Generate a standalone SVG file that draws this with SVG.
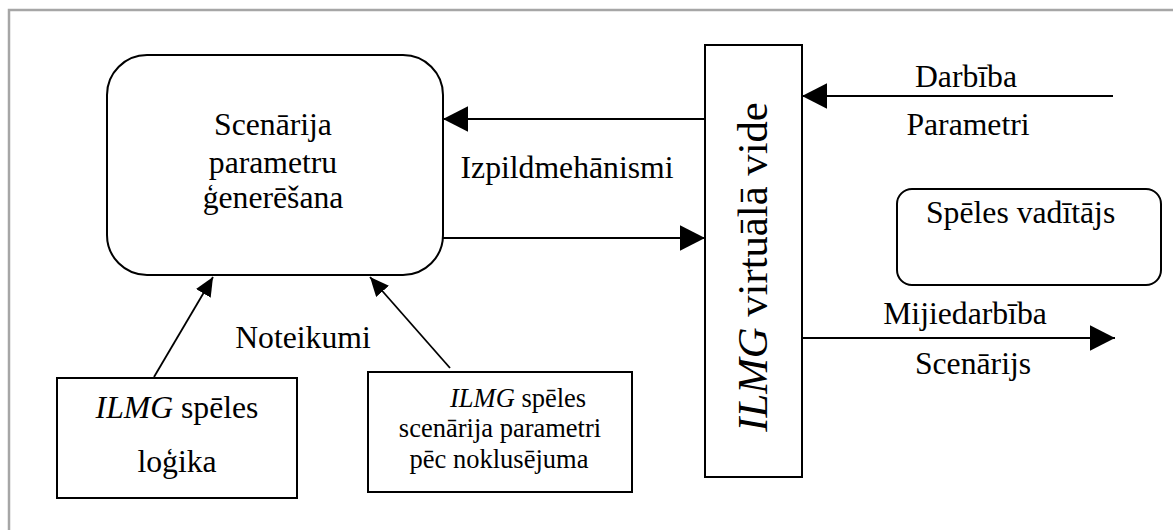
<svg xmlns="http://www.w3.org/2000/svg" width="1173" height="530" viewBox="0 0 1173 530">
  <style>
    .box { fill: #ffffff; stroke: #000000; stroke-width: 2; }
    .frame { fill: none; stroke: #a6a6a6; stroke-width: 2.5; }
    .conn { fill: none; stroke: #000000; stroke-width: 1.8; }
    .t { font-family: "Liberation Serif", "Times New Roman", serif; font-size: 31.7px; fill: #000000; }
    .ts { font-family: "Liberation Serif", "Times New Roman", serif; font-size: 26.5px; fill: #000000; }
    .tv { font-family: "Liberation Serif", "Times New Roman", serif; font-size: 42.7px; fill: #000000; }
    .c { text-anchor: middle; }
  </style>
  <defs>
    <marker id="head" markerUnits="userSpaceOnUse" markerWidth="26" markerHeight="26" refX="25" refY="12.75" orient="auto">
      <path d="M0,0 L25,12.75 L0,25.5 Z" fill="#000000"/>
    </marker>
    <marker id="headSmall" markerUnits="userSpaceOnUse" markerWidth="20" markerHeight="18" refX="19" refY="8.5" orient="auto">
      <path d="M0,0 L19,8.5 L0,17 Z" fill="#000000"/>
    </marker>
  </defs>

  <rect width="1173" height="530" fill="#ffffff"/>
  <!-- page frame -->
  <path class="frame" d="M9,530 L9,10 L1173,10"/>

  <!-- connectors -->
  <g id="connectors">
    <line class="conn" x1="705" y1="119" x2="443" y2="119" marker-end="url(#head)"/>
    <line class="conn" x1="443" y1="238" x2="705" y2="238" marker-end="url(#head)"/>
    <line class="conn" x1="1113" y1="96" x2="802" y2="96" marker-end="url(#head)"/>
    <line class="conn" x1="802" y1="338" x2="1115" y2="338" marker-end="url(#head)"/>
    <line class="conn" x1="154" y1="377" x2="213" y2="277" marker-end="url(#headSmall)"/>
    <line class="conn" x1="450" y1="368" x2="370" y2="277" marker-end="url(#headSmall)"/>
  </g>

  <!-- connector labels -->
  <g id="labels">
    <text class="t c" x="567" y="178">Izpildmehānismi</text>
    <text class="t c" x="966" y="87">Darbība</text>
    <text class="t c" x="968" y="135">Parametri</text>
    <text class="t c" x="965" y="324">Mijiedarbība</text>
    <text class="t c" x="973" y="374">Scenārijs</text>
    <text class="t c" x="303" y="348">Noteikumi</text>
  </g>

  <g id="scenario-generation">
    <rect class="box" x="107" y="55" width="336" height="220" rx="40" ry="40"/>
    <text class="t c" x="273" y="135">Scenārija</text>
    <text class="t c" x="273" y="173">parametru</text>
    <text class="t c" x="273" y="208">ģenerēšana</text>
  </g>

  <g id="virtual-environment">
    <rect class="box" x="705" y="45" width="97" height="432"/>
    <text class="tv c" transform="translate(767,267) rotate(-90)"><tspan font-style="italic">ILMG</tspan> virtuālā vide</text>
  </g>

  <g id="game-master">
    <rect class="box" x="897" y="189" width="264" height="96" rx="15" ry="15"/>
    <text class="t" x="926" y="223">Spēles vadītājs</text>
  </g>

  <g id="game-logic">
    <rect class="box" x="57" y="378" width="240" height="120"/>
    <text class="t c" x="177" y="418"><tspan font-style="italic">ILMG</tspan> spēles</text>
    <text class="t c" x="177" y="472">loģika</text>
  </g>

  <g id="default-parameters">
    <rect class="box" x="368" y="372" width="264" height="120"/>
    <text class="ts" x="450" y="407"><tspan font-style="italic">ILMG</tspan> spēles</text>
    <text class="ts c" x="500" y="437">scenārija parametri</text>
    <text class="ts c" x="499" y="468">pēc noklusējuma</text>
  </g>
</svg>
